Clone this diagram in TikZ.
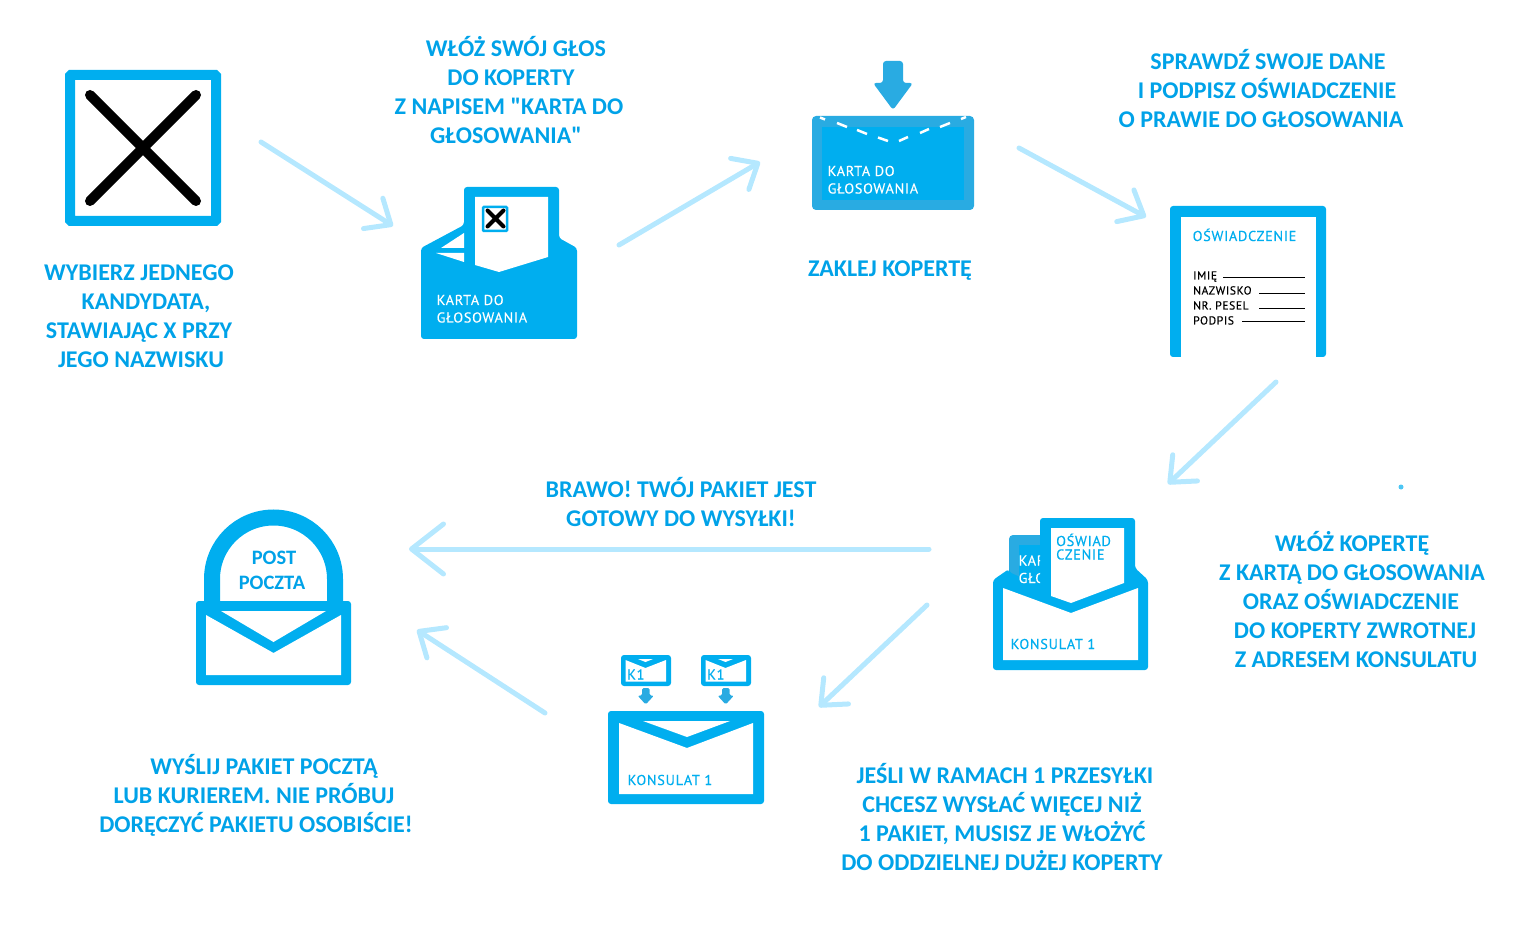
\documentclass[tikz,border=0pt]{standalone}
\usepackage{fontspec}
\newfontfamily\capfont{Carlito}
\newfontfamily\din[LetterSpace=5,FakeBold=0.25]{PT Sans}
\usetikzlibrary{arrows.meta}
\definecolor{ikon}{HTML}{00AEEF}
\definecolor{ikondark}{HTML}{29ABE2}
\definecolor{txt}{HTML}{00A2E8}
\definecolor{flow}{HTML}{B5E8FF}
\tikzset{
  x=1pt,y=-1pt,
  captext/.style={font=\capfont\fontsize{24}{29}\selectfont\bfseries,text=txt,align=center,inner sep=0pt},
  flowarrow/.style={draw=flow,line width=5pt,-{Straight Barb[length=21pt,width=36pt,round]},line cap=round},
  flowlong/.style={flowarrow,-{Straight Barb[length=32pt,width=50pt,round]}},
  icontext/.style={font=\din\fontsize{14.3}{17.5}\selectfont,inner sep=0pt,anchor=base west,align=left},
  smalltext/.style={font=\din\fontsize{11.6}{15}\selectfont,inner sep=0pt,anchor=base west,text=black},
  sigline/.style={draw=black,line width=1pt},
  solidikon/.style={fill=ikon,rounded corners=3pt},
  blankfill/.style={fill=white},
  droparrow/.style={fill=ikondark,rounded corners=3pt},
}
\begin{document}
\begin{tikzpicture}
\useasboundingbox (0,0) rectangle (1540,933);
% step 1
\draw[ikon,line width=10pt,rounded corners=1pt] (70,75) rectangle (216,221);
\draw[black,line width=10pt,line cap=round] (90,95) -- (196,201) (196,95) -- (90,201);
\node[captext] (t1) at (139,316.5) {WYBIERZ JEDNEGO\\\hspace*{14pt}KANDYDATA,\\STAWIAJĄC X PRZY\\\hspace*{4pt}JEGO NAZWISKU};
% step 2
\fill[solidikon] (421,248) -- (464,225) -- (464,195) -- (464,187) -- (559,187) -- (559,238) -- (577,248) -- (577,339) -- (421,339) -- cycle;
\fill[blankfill] (475,197) -- (548,197) -- (548,257) -- (499,272) -- (475,265) -- cycle;
\fill[blankfill] (464,233) -- (441,248) -- (464,248) -- cycle;
\fill[blankfill] (436,253) -- (464,253) -- (464,262) -- cycle;
\filldraw[fill=white,draw=ikon,line width=2.5pt,rounded corners=1pt] (483,207) rectangle (507,231);
\draw[black,line width=4pt,line cap=round] (487.5,210.5) -- (503.5,226.5) (503.5,210.5) -- (487.5,226.5);
\node[icontext,text=white] (l2) at (436.5,322.5) {KARTA DO\\GŁOSOWANIA};
\node[captext] (t2) at (509,90.5) {\hspace*{14pt}WŁÓŻ SWÓJ GŁOS\\\hspace*{4pt}DO KOPERTY\\Z NAPISEM "KARTA DO\\\hspace*{-6pt}GŁOSOWANIA"};
% step 3
\fill[ikondark,rounded corners=4pt] (812,116) rectangle (974,210);
\fill[ikon] (822,127) rectangle (964,200);
\fill[droparrow] (883,61) -- (903,61) -- (903,83) -- (913,83) -- (893,110) -- (873,83) -- (883,83) -- cycle;
\draw[white,line width=2.5pt]
  (820,117.5) -- (825,119.5) (837,123) -- (847,127) (857,130) -- (867,134) (878,137.5) -- (888,141)
  (899,141) -- (908,137) (920,133) -- (929,129) (940,127) -- (950,123) (961,119) -- (966,117);
\node[icontext,text=white] (l3) at (827.5,193.5) {KARTA DO\\GŁOSOWANIA};
\node[captext] (t3) at (890,270.5) {ZAKLEJ KOPERTĘ};
% step 4
\fill[ikon,rounded corners=3pt] (1170,357) -- (1170,206) -- (1326,206) -- (1326,357) -- cycle;
\fill[blankfill] (1181,217) rectangle (1316,357);
\node[icontext,text=ikon] (l4) at (1192.5,241) {OŚWIADCZENIE};
\node[smalltext] (i1) at (1193,279.5) {IMIĘ};
\node[smalltext] (i2) at (1193,294.5) {NAZWISKO};
\node[smalltext] (i3) at (1193,309.5) {NR. PESEL};
\node[smalltext] (i4) at (1193,324.5) {PODPIS};
\draw[sigline] (1223,278) -- (1305,278) (1259,293.5) -- (1305,293.5) (1259,308.5) -- (1305,308.5) (1242,321.5) -- (1305,321.5);
\node[captext] (t4) at (1264,89) {\hspace*{8pt}SPRAWDŹ SWOJE DANE\\\hspace*{6pt}I PODPISZ OŚWIADCZENIE\\\hspace*{-6pt}O PRAWIE DO GŁOSOWANIA};
% step 5
\fill[ikondark,rounded corners=4pt] (1009,535) rectangle (1045,600);
\fill[ikon] (1019,545) rectangle (1045,590);
\fill[solidikon] (993,580) -- (1009,569) -- (1009,572) -- (1040,586) -- (1040,518) -- (1135,518) -- (1135,568) -- (1148,580) -- (1148,670) -- (993,670) -- cycle;
\begin{scope}
\clip (1009,535) rectangle (1040,600);
\node[icontext,text=white] (l5) at (1018.5,583) {KARTA DO\\GŁOSOWANIA};
\end{scope}
\fill[blankfill] (1051,528) -- (1124,528) -- (1124,583) -- (1071,603) -- (1051,596) -- cycle;
\fill[blankfill] (1003,588) -- (1071,613) -- (1138,588) -- (1138,660) -- (1003,660) -- cycle;
\node[font=\din\fontsize{14.3}{13.5}\selectfont,text=ikon,inner sep=0pt,anchor=base west,align=left] (l5b) at (1056,559.5) {OŚWIAD\\CZENIE};
\node[icontext,text=ikon] (l5c) at (1010.5,649) {KONSULAT 1};
\fill[ikon!70] (1401,487) circle (2.5pt);
\node[captext] (t5) at (1352,600) {WŁÓŻ KOPERTĘ\\Z KARTĄ DO GŁOSOWANIA\\\hspace*{-2pt}ORAZ OŚWIADCZENIE\\\hspace*{6pt}DO KOPERTY ZWROTNEJ\\\hspace*{8pt}Z ADRESEM KONSULATU};
% step 6
\fill[solidikon] (608,711) rectangle (764,804);
\fill[blankfill] (643,721) -- (730,721) -- (687,737) -- cycle;
\fill[blankfill] (619,723) -- (687,748) -- (753,723) -- (753,794) -- (619,794) -- cycle;
\node[icontext,text=ikon] (l6) at (627.5,785) {KONSULAT 1};
\foreach \dx/\nm in {0/a,80/b}{
  \begin{scope}[xshift=\dx pt]
  \fill[solidikon] (621,655) rectangle (671,686);
  \fill[blankfill] (638,659) -- (653,659) -- (645.5,662) -- cycle;
  \fill[blankfill] (625.5,660) -- (645.5,668) -- (666,660) -- (666,681.5) -- (625.5,681.5) -- cycle;
  \node[font=\din\fontsize{14.3}{14}\selectfont,text=ikon,inner sep=0pt,anchor=base west] (k\nm) at (627,679.5) {K1};
  \fill[droparrow,rounded corners=1.5pt] (642,688) -- (649.5,688) -- (649.5,695.5) -- (654,695.5) -- (645.7,704.5) -- (637.5,695.5) -- (642,695.5) -- cycle;
  \end{scope}
}
\node[captext] (t6) at (1002,817) {\hspace*{6pt}JEŚLI W RAMACH 1 PRZESYŁKI\\CHCESZ WYSŁAĆ WIĘCEJ NIŻ\\1 PAKIET, MUSISZ JE WŁOŻYĆ\\DO ODDZIELNEJ DUŻEJ KOPERTY};
% step 7
\draw[ikon,line width=16pt] (212,604) -- (212,579) arc[start angle=180,end angle=0,radius=61.5pt] -- (335,604);
\fill[solidikon] (196,601) rectangle (351,685);
\fill[blankfill] (221,611) -- (326,611) -- (273.5,642) -- cycle;
\fill[blankfill] (206,615) -- (273.5,653) -- (341,615) -- (341,675) -- (206,675) -- cycle;
\node[font=\capfont\fontsize{20.5}{24.5}\selectfont\bfseries,text=txt,inner sep=0pt,align=center] (post) at (272,570.5) {\hspace*{4pt}POST\\POCZTA};
\node[captext] (t7) at (681,502) {BRAWO! TWÓJ PAKIET JEST\\GOTOWY DO WYSYŁKI!};
\node[captext] (t8) at (256,795) {\hspace*{16pt}WYŚLIJ PAKIET POCZTĄ\\\hspace*{-4pt}LUB KURIEREM. NIE PRÓBUJ\\DORĘCZYĆ PAKIETU OSOBIŚCIE!};
% flow arrows
\coordinate (a1s) at (261,142); \coordinate (a1e) at (393,226);
\coordinate (a2s) at (619,245); \coordinate (a2e) at (760,162);
\coordinate (a3s) at (1019,148); \coordinate (a3e) at (1146,217);
\coordinate (a4s) at (1276,382); \coordinate (a4e) at (1168,484);
\coordinate (a5s) at (929,549); \coordinate (a5e) at (409,549);
\coordinate (a6s) at (927,605); \coordinate (a6e) at (819,707);
\coordinate (a7s) at (545,713); \coordinate (a7e) at (417,630);
\foreach \n in {1,2,3,4,6,7}{\draw[flowarrow] (a\n s) -- (a\n e);}
\draw[flowlong] (a5s) -- (a5e);
\end{tikzpicture}
\end{document}
